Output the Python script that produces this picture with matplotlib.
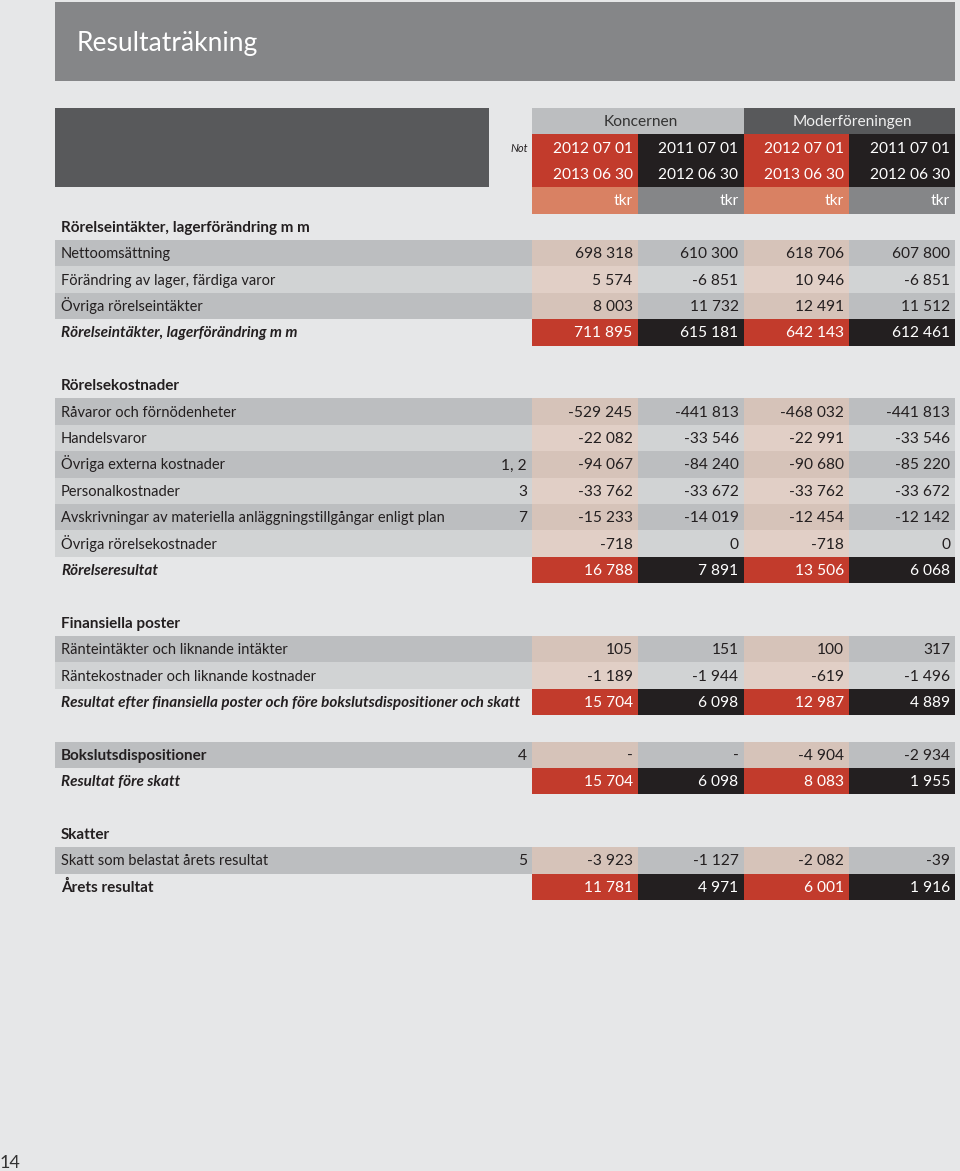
import matplotlib.pyplot as plt

plt.rcParams['font.family'] = ['Lato', 'DejaVu Sans']

###DATA###
title = 'Resultaträkning'
groups = ['Koncernen', 'Moderföreningen']
period_start = ['2012 07 01', '2011 07 01', '2012 07 01', '2011 07 01']
period_end = ['2013 06 30', '2012 06 30', '2013 06 30', '2012 06 30']
unit = 'tkr'

# row kinds: sec = section heading, row = line item, rowb = bold line item,
# sum = subtotal (bold italic), sumb = subtotal (bold), gap = empty row
row_kind = ['sec', 'row', 'row', 'row', 'sum', 'gap',
            'sec', 'row', 'row', 'row', 'row', 'row', 'row', 'sum', 'gap',
            'sec', 'row', 'row', 'sum', 'gap',
            'rowb', 'sum', 'gap',
            'sec', 'row', 'sumb']
row_label = ['Rörelseintäkter, lagerförändring m m', 'Nettoomsättning',
             'Förändring av lager, färdiga varor', 'Övriga rörelseintäkter',
             'Rörelseintäkter, lagerförändring m m', '',
             'Rörelsekostnader', 'Råvaror och förnödenheter', 'Handelsvaror',
             'Övriga externa kostnader', 'Personalkostnader',
             'Avskrivningar av materiella anläggningstillgångar enligt plan',
             'Övriga rörelsekostnader', 'Rörelseresultat', '',
             'Finansiella poster', 'Ränteintäkter och liknande intäkter',
             'Räntekostnader och liknande kostnader',
             'Resultat efter finansiella poster och före bokslutsdispositioner och skatt', '',
             'Bokslutsdispositioner', 'Resultat före skatt', '',
             'Skatter', 'Skatt som belastat årets resultat', 'Årets resultat']
row_note = ['', '', '', '', '', '',
            '', '', '', '1, 2', '3', '7', '', '', '',
            '', '', '', '', '',
            '4', '', '',
            '', '5', '']
koncern_2013 = [None, 698318, 5574, 8003, 711895, None,
                None, -529245, -22082, -94067, -33762, -15233, -718, 16788, None,
                None, 105, -1189, 15704, None,
                None, 15704, None,
                None, -3923, 11781]
koncern_2012 = [None, 610300, -6851, 11732, 615181, None,
                None, -441813, -33546, -84240, -33672, -14019, 0, 7891, None,
                None, 151, -1944, 6098, None,
                None, 6098, None,
                None, -1127, 4971]
moder_2013 = [None, 618706, 10946, 12491, 642143, None,
              None, -468032, -22991, -90680, -33762, -12454, -718, 13506, None,
              None, 100, -619, 12987, None,
              -4904, 8083, None,
              None, -2082, 6001]
moder_2012 = [None, 607800, -6851, 11512, 612461, None,
              None, -441813, -33546, -85220, -33672, -12142, 0, 6068, None,
              None, 317, -1496, 4889, None,
              -2934, 1955, None,
              None, -39, 1916]
dash_rows = ['Bokslutsdispositioner']  # rows where koncern columns show "-"
page_no = '14'

##### STYLE #####
BG = '#e6e7e8'
TITLE_BG = '#858688'
DARK_BOX = '#58595b'
LIGHT_HEAD = '#bcbec0'
RED = '#c23b2c'
BLACK = '#231f20'
SALMON = '#d98163'
GREY_TKR = '#858688'
BAND = ['#bcbec0', '#d1d3d4']
PINK = ['#d6c3b9', '#e1cfc6']
TXT = '#231f20'

W, H = 960, 1171
fig = plt.figure(figsize=(W / 100, H / 100), dpi=100, facecolor=BG)
ax = fig.add_axes([0, 0, 1, 1])
ax.set_xlim(0, W)
ax.set_ylim(H, 0)
ax.axis('off')
ax.set_facecolor(BG)

x0, xlab_end, x1 = 55, 532, 955
col_w = (x1 - xlab_end) / 4
col_left = [xlab_end + i * col_w for i in range(4)]
rh = 26.4
top = 108
fs = 10.5      # labels
fs_num = 11.2  # numbers and dates
fs_b = 11      # bold headings / totals
base = 5       # baseline offset from row centre


def fmt(v):
    if v is None:
        return ''
    return f'{v:,}'.replace(',', ' ')


def put(x, yc, s, ha='left', **kw):
    ax.text(x, yc + base, s, ha=ha, va='baseline', **kw)


# title bar
ax.barh(2, x1 - x0, left=x0, height=79, align='edge', color=TITLE_BG)
ax.text(77, 51, title, color='white', fontsize=19, va='baseline', ha='left')

# header block
ax.barh(top, xlab_end - 43 - x0, left=x0, height=3 * rh, align='edge', color=DARK_BOX)
ax.barh(top, 2 * col_w, left=col_left[0], height=rh, align='edge', color=LIGHT_HEAD)
ax.barh(top, 2 * col_w, left=col_left[2], height=rh, align='edge', color=DARK_BOX)
put(col_left[1] + 3, top + rh / 2, groups[0], ha='center', fontsize=fs_num, color='#333333')
put(col_left[3] + 3, top + rh / 2, groups[1], ha='center', fontsize=fs_num, color='#eeeeee')
put(xlab_end - 4, top + 1.5 * rh - 1, 'Not', ha='right', fontsize=8, style='italic', color=TXT)
for i in range(4):
    ax.barh(top + rh, col_w, left=col_left[i], height=2 * rh, align='edge',
            color=RED if i % 2 == 0 else BLACK)
    ax.barh(top + 3 * rh, col_w, left=col_left[i], height=rh, align='edge',
            color=SALMON if i % 2 == 0 else GREY_TKR)
    xr = col_left[i] + col_w - 5
    put(xr, top + 1.5 * rh, period_start[i], ha='right', fontsize=fs_num, color='white')
    put(xr, top + 2.5 * rh, period_end[i], ha='right', fontsize=fs_num, color='white')
    put(xr, top + 3.5 * rh, unit, ha='right', fontsize=fs_num, color='white')

# body rows
cols = [koncern_2013, koncern_2012, moder_2013, moder_2012]
y = top + 4 * rh
band = 0
for r, kind in enumerate(row_kind):
    yc = y + rh / 2
    if kind == 'gap':
        band = 0
    elif kind == 'sec':
        band = 0
        put(61, yc, row_label[r], fontsize=fs_b, fontweight='bold', color=TXT)
    elif kind in ('row', 'rowb'):
        ax.barh(y, xlab_end - x0, left=x0, height=rh, align='edge', color=BAND[band])
        for i in range(4):
            ax.barh(y, col_w, left=col_left[i], height=rh, align='edge',
                    color=PINK[band] if i % 2 == 0 else BAND[band])
            txt = fmt(cols[i][r])
            if row_label[r] in dash_rows and i < 2:
                txt = '-'
            put(col_left[i] + col_w - 5, yc, txt, ha='right', fontsize=fs_num, color=TXT)
        if kind == 'rowb':
            put(61, yc, row_label[r], fontsize=fs_b, fontweight='bold', color=TXT)
        else:
            put(61, yc, row_label[r], fontsize=fs, color=TXT)
        put(xlab_end - 5, yc, row_note[r], ha='right', fontsize=fs_num, color=TXT)
        band = 1 - band
    else:
        for i in range(4):
            ax.barh(y, col_w, left=col_left[i], height=rh, align='edge',
                    color=RED if i % 2 == 0 else BLACK)
            put(col_left[i] + col_w - 5, yc, fmt(cols[i][r]), ha='right',
                fontsize=fs_num, color='white')
        put(61, yc, row_label[r], fontsize=fs_b, fontweight='bold',
            style='italic' if kind == 'sum' else 'normal', color=TXT)
        band = 0
    y += rh

ax.text(0, 1168, page_no, ha='left', va='baseline', fontsize=13, color='#333333')

fig.savefig('out.png', dpi=100, facecolor=BG)
